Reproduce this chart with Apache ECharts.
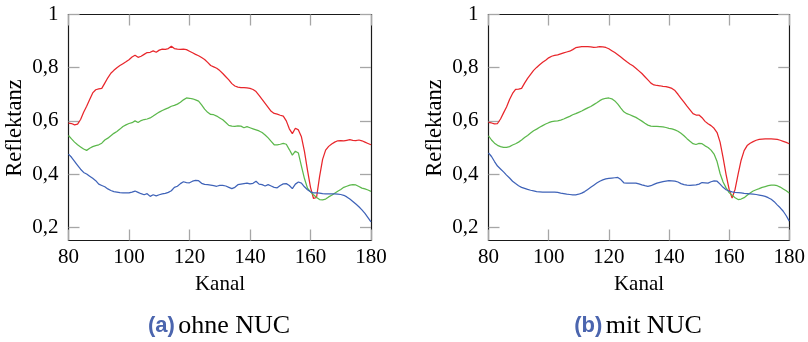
<!DOCTYPE html>
<html><head><meta charset="utf-8">
<script src="https://cdn.jsdelivr.net/npm/echarts@6/dist/echarts.min.js"></script>
<style>html,body{margin:0;padding:0;background:#fff}#c{width:808px;height:342px}</style>
</head><body><div id="c"></div>
<script>
const channels = [80,81,82,83,84,85,86,87,88,89,90,91,92,93,94,95,96,97,98,99,100,101,102,103,104,105,106,107,108,109,110,111,112,113,114,115,116,117,118,119,120,121,122,123,124,125,126,127,128,129,130,131,132,133,134,135,136,137,138,139,140,141,142,143,144,145,146,147,148,149,150,151,152,153,154,155,156,157,158,159,160,161,162,163,164,165,166,167,168,169,170,171,172,173,174,175,176,177,178,179,180];
const xTickLabels = [80,100,120,140,160,180];
const yTickValues = [0.2,0.4,0.6,0.8,1];

// (a) ohne NUC
const ohneRed = [0.591,0.590,0.585,0.588,0.605,0.632,0.655,0.680,0.705,0.717,0.720,0.722,0.742,0.762,0.779,0.790,0.800,0.808,0.815,0.822,0.830,0.840,0.847,0.839,0.843,0.850,0.857,0.858,0.863,0.858,0.866,0.870,0.869,0.872,0.881,0.872,0.870,0.869,0.870,0.868,0.862,0.856,0.850,0.845,0.838,0.831,0.820,0.808,0.803,0.798,0.789,0.778,0.766,0.754,0.740,0.731,0.727,0.725,0.725,0.724,0.722,0.718,0.710,0.696,0.681,0.666,0.651,0.636,0.628,0.625,0.621,0.618,0.600,0.570,0.552,0.572,0.566,0.540,0.485,0.415,0.350,0.308,0.312,0.390,0.455,0.490,0.504,0.513,0.520,0.525,0.526,0.525,0.527,0.529,0.527,0.526,0.528,0.525,0.520,0.515,0.510];
const ohneGreen = [0.545,0.532,0.520,0.510,0.502,0.494,0.489,0.497,0.503,0.507,0.510,0.516,0.528,0.535,0.544,0.553,0.560,0.569,0.579,0.585,0.590,0.593,0.600,0.594,0.601,0.605,0.607,0.611,0.618,0.626,0.633,0.639,0.644,0.649,0.655,0.658,0.663,0.670,0.679,0.686,0.685,0.683,0.679,0.674,0.660,0.644,0.632,0.624,0.623,0.618,0.611,0.604,0.594,0.583,0.580,0.579,0.581,0.580,0.574,0.578,0.574,0.570,0.566,0.562,0.556,0.547,0.536,0.523,0.510,0.510,0.512,0.515,0.512,0.492,0.471,0.486,0.479,0.430,0.383,0.347,0.333,0.322,0.312,0.304,0.303,0.306,0.314,0.320,0.328,0.335,0.342,0.350,0.354,0.358,0.360,0.359,0.353,0.347,0.344,0.340,0.335];
const ohneBlue = [0.475,0.463,0.448,0.433,0.418,0.406,0.400,0.392,0.384,0.375,0.362,0.357,0.352,0.344,0.338,0.334,0.332,0.330,0.329,0.329,0.329,0.332,0.336,0.331,0.326,0.322,0.326,0.316,0.322,0.318,0.322,0.325,0.327,0.331,0.337,0.350,0.354,0.364,0.371,0.368,0.367,0.373,0.376,0.375,0.365,0.361,0.360,0.358,0.356,0.354,0.357,0.357,0.355,0.350,0.345,0.350,0.360,0.362,0.364,0.366,0.363,0.365,0.373,0.362,0.360,0.355,0.360,0.355,0.350,0.348,0.357,0.363,0.364,0.357,0.345,0.362,0.370,0.366,0.352,0.341,0.333,0.329,0.329,0.328,0.326,0.325,0.325,0.325,0.325,0.324,0.323,0.320,0.314,0.306,0.297,0.287,0.277,0.265,0.252,0.236,0.220];

// (b) mit NUC
const mitRed = [0.594,0.592,0.589,0.590,0.607,0.630,0.652,0.680,0.703,0.718,0.719,0.722,0.742,0.760,0.775,0.790,0.801,0.811,0.820,0.828,0.837,0.843,0.846,0.848,0.852,0.856,0.859,0.862,0.868,0.875,0.877,0.879,0.879,0.879,0.878,0.876,0.877,0.879,0.878,0.876,0.871,0.864,0.857,0.849,0.840,0.831,0.822,0.814,0.807,0.798,0.788,0.778,0.766,0.754,0.742,0.735,0.733,0.732,0.730,0.729,0.726,0.722,0.714,0.700,0.685,0.670,0.655,0.641,0.627,0.622,0.622,0.612,0.598,0.589,0.582,0.572,0.556,0.520,0.462,0.398,0.343,0.310,0.343,0.400,0.452,0.488,0.507,0.516,0.522,0.527,0.530,0.531,0.532,0.532,0.532,0.531,0.530,0.527,0.523,0.519,0.514];
const mitGreen = [0.544,0.528,0.516,0.508,0.503,0.500,0.500,0.503,0.509,0.514,0.520,0.528,0.537,0.545,0.554,0.563,0.569,0.576,0.582,0.588,0.593,0.597,0.599,0.600,0.603,0.607,0.612,0.617,0.623,0.627,0.632,0.637,0.643,0.649,0.654,0.661,0.668,0.676,0.682,0.685,0.686,0.683,0.675,0.663,0.648,0.634,0.627,0.623,0.618,0.613,0.606,0.599,0.591,0.584,0.580,0.579,0.579,0.578,0.577,0.575,0.572,0.570,0.566,0.561,0.553,0.544,0.533,0.523,0.514,0.511,0.515,0.514,0.506,0.500,0.490,0.475,0.447,0.402,0.370,0.348,0.330,0.320,0.311,0.304,0.306,0.311,0.320,0.329,0.336,0.341,0.345,0.350,0.353,0.356,0.358,0.358,0.356,0.351,0.344,0.337,0.329];
const mitBlue = [0.479,0.466,0.447,0.430,0.419,0.408,0.396,0.385,0.373,0.364,0.356,0.350,0.346,0.342,0.339,0.337,0.334,0.333,0.332,0.332,0.332,0.332,0.332,0.331,0.328,0.326,0.324,0.323,0.322,0.322,0.324,0.328,0.334,0.342,0.350,0.358,0.366,0.373,0.378,0.382,0.384,0.385,0.386,0.387,0.379,0.367,0.366,0.366,0.366,0.366,0.363,0.359,0.356,0.354,0.356,0.361,0.366,0.369,0.371,0.373,0.375,0.374,0.373,0.370,0.364,0.360,0.358,0.357,0.358,0.359,0.362,0.368,0.367,0.366,0.371,0.374,0.373,0.362,0.350,0.341,0.336,0.333,0.331,0.330,0.329,0.327,0.326,0.325,0.324,0.323,0.321,0.319,0.316,0.311,0.305,0.296,0.284,0.273,0.260,0.243,0.223];

const RED = '#e8262b', GREEN = '#5cb84c', BLUE = '#3f63b8';
const SERIF = '"Liberation Serif", "DejaVu Serif", serif';
const TICK = {show: true, inside: true, length: 11, lineStyle: {color: '#a6a6a6', width: 1.3}};
const LINE = {show: true, onZero: false, lineStyle: {color: '#1a1a1a', width: 1.2}};

function fmtY(v) { return v === 1 ? '1' : v.toFixed(1).replace('.', ','); }

function xAxis(grid, pos, labels) {
  return {
    type: 'value', gridIndex: grid, position: pos, min: 80, max: 180, interval: 20,
    axisLine: LINE,
    axisTick: Object.assign({}, TICK, {customValues: xTickLabels}),
    axisLabel: {show: labels, customValues: xTickLabels, margin: 6, color: '#000', fontFamily: SERIF, fontSize: 21},
    splitLine: {show: false}
  };
}
function yAxis(grid, pos, labels) {
  return {
    type: 'value', gridIndex: grid, position: pos, min: 0.15, max: 1,
    axisLine: LINE,
    axisTick: Object.assign({}, TICK, {customValues: yTickValues}),
    axisLabel: {show: labels, customValues: yTickValues, margin: 10, color: '#000', fontFamily: SERIF, fontSize: 21, formatter: fmtY},
    splitLine: {show: false}
  };
}
function line(name, arr, color, xi, yi) {
  return {
    name: name, type: 'line', xAxisIndex: xi, yAxisIndex: yi, symbol: 'none', silent: true,
    lineStyle: {color: color, width: 1.25}, itemStyle: {color: color},
    data: channels.map((c, i) => [c, arr[i]])
  };
}

const chart = echarts.init(document.getElementById('c'), null, {renderer: 'canvas'});
chart.setOption({
  animation: false,
  backgroundColor: '#fff',
  grid: [
    {left: 68.5, top: 14.5, width: 302.5, height: 226},
    {left: 488.5, top: 14.5, width: 302, height: 226}
  ],
  xAxis: [xAxis(0, 'bottom', true), xAxis(0, 'top', false), xAxis(1, 'bottom', true), xAxis(1, 'top', false)],
  yAxis: [yAxis(0, 'left', true), yAxis(0, 'right', false), yAxis(1, 'left', true), yAxis(1, 'right', false)],
  series: [
    line('rot a', ohneRed, RED, 0, 0), line('grün a', ohneGreen, GREEN, 0, 0), line('blau a', ohneBlue, BLUE, 0, 0),
    line('rot b', mitRed, RED, 2, 2), line('grün b', mitGreen, GREEN, 2, 2), line('blau b', mitBlue, BLUE, 2, 2)
  ],
  graphic: [
    {type: 'text', x: 220, y: 284, style: {text: 'Kanal', font: '21px ' + SERIF, fill: '#000', align: 'center', verticalAlign: 'middle'}},
    {type: 'text', x: 639, y: 284, style: {text: 'Kanal', font: '21px ' + SERIF, fill: '#000', align: 'center', verticalAlign: 'middle'}},
    {type: 'text', x: 15, y: 128, rotation: Math.PI / 2, style: {text: 'Reflektanz', font: '22.5px ' + SERIF, fill: '#000', align: 'center', verticalAlign: 'middle'}},
    {type: 'text', x: 435, y: 128, rotation: Math.PI / 2, style: {text: 'Reflektanz', font: '22.5px ' + SERIF, fill: '#000', align: 'center', verticalAlign: 'middle'}},
    {type: 'text', x: 219, y: 326, style: {text: '{a|(a)} {b|ohne NUC}', align: 'center', verticalAlign: 'middle',
      rich: {a: {font: 'bold 22px "Liberation Sans", sans-serif', fill: '#4b65ae'}, b: {font: '26px ' + SERIF, fill: '#000'}}}},
    {type: 'text', x: 638, y: 326, style: {text: '{a|(b)} {b|mit NUC}', align: 'center', verticalAlign: 'middle',
      rich: {a: {font: 'bold 22px "Liberation Sans", sans-serif', fill: '#4b65ae'}, b: {font: '26px ' + SERIF, fill: '#000'}}}}
  ]
});
</script>
</body></html>
